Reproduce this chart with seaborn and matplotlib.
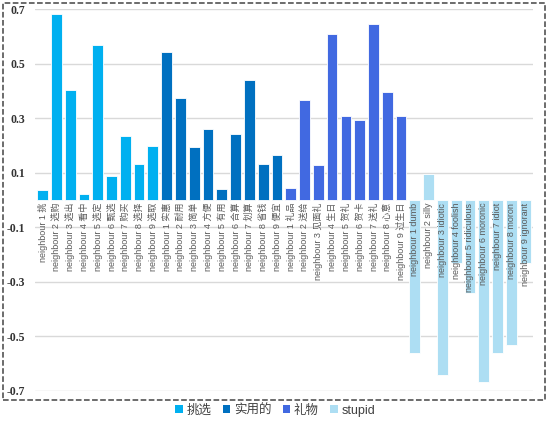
import pandas as pd
import matplotlib
matplotlib.use("Agg")
import matplotlib.pyplot as plt
import seaborn as sns
from matplotlib.patches import Rectangle, Patch

# --- data ---
groups = ["挑选", "实用的", "礼物", "stupid"]

words_pick = ["挑", "选购", "选出", "看中", "选定", "甄选", "购买", "选择", "选取"]
words_useful = ["实惠", "耐用", "简单", "方便", "有用", "合算", "划算", "省钱", "便宜"]
words_gift = ["礼品", "送给", "见面礼", "生日", "贺礼", "贺卡", "送礼", "心意", "过生日"]
words_stupid = ["dumb", "silly", "idiotic", "foolish", "ridiculous", "moronic",
                "idiot", "moron", "ignorant"]

vals_pick = [0.037, 0.683, 0.403, 0.022, 0.567, 0.088, 0.235, 0.132, 0.198]
vals_useful = [0.543, 0.374, 0.193, 0.259, 0.041, 0.243, 0.442, 0.131, 0.167]
vals_gift = [0.046, 0.366, 0.127, 0.609, 0.310, 0.292, 0.647, 0.395, 0.307]
vals_stupid = [-0.560, 0.095, -0.640, -0.232, -0.340, -0.667, -0.560, -0.530, -0.230]

yticks = [-0.7, -0.5, -0.3, -0.1, 0.1, 0.3, 0.5, 0.7]
colors = ["#00B0F0", "#0070C0", "#4169E1", "#ADDEF3"]

rows = []
for g, words, vals in zip(groups,
                          [words_pick, words_useful, words_gift, words_stupid],
                          [vals_pick, vals_useful, vals_gift, vals_stupid]):
    for i, (w, v) in enumerate(zip(words, vals)):
        rows.append({"label": f"neighbour {i + 1} {w}", "value": v, "group": g})
df = pd.DataFrame(rows)

sns.set_style("white")
plt.rcParams["font.family"] = ["Liberation Sans", "Noto Sans CJK SC"]

fig = plt.figure(figsize=(5.5, 4.21), dpi=100)
ax = fig.add_axes([0.0636, 0.0713, 0.905, 0.907])

sns.barplot(data=df, x="label", y="value", hue="group", hue_order=groups,
            palette=colors, saturation=1, dodge=False, width=0.78,
            edgecolor="white", linewidth=0.6, legend=False, ax=ax, zorder=2)

ax.set_ylim(-0.7, 0.7)
ax.set_xlim(-0.55, len(df) - 0.45)
ax.set_yticks(yticks)
ax.set_yticklabels([f"{t:.1f}" for t in yticks], family="Liberation Serif",
                   fontweight="bold", fontsize=8.5, color="#333333")
ax.tick_params(axis="y", length=0, pad=7)
ax.set_xticks([])
ax.set_xlabel("")
ax.set_ylabel("")
ax.yaxis.grid(True, color="#D9D9D9", linewidth=1, zorder=0)
ax.set_axisbelow(True)
for s in ax.spines.values():
    s.set_visible(False)

# category labels sit just under the zero line
for i, lab in enumerate(df["label"]):
    ax.annotate(lab, xy=(i, 0), xytext=(0, -2), textcoords="offset points",
                rotation=90, ha="center", va="top", fontsize=6.5,
                color="#595959", zorder=3)

# legend below the plot
handles = [Patch(facecolor=c, edgecolor="none", label=g) for g, c in zip(groups, colors)]
fig.legend(handles=handles, loc="center", bbox_to_anchor=(0.5, 0.025),
           ncol=4, frameon=False, fontsize=9, handlelength=0.6,
           handleheight=0.6, handletextpad=0.3, columnspacing=0.9,
           labelcolor="#404040")

# dashed frame around the chart area
fig.patches.append(Rectangle((0.0055, 0.0499), 0.9855, 0.943,
                             transform=fig.transFigure, fill=False,
                             edgecolor="#444444", linestyle="--", linewidth=1.1))

fig.savefig("out.png", dpi=100)
